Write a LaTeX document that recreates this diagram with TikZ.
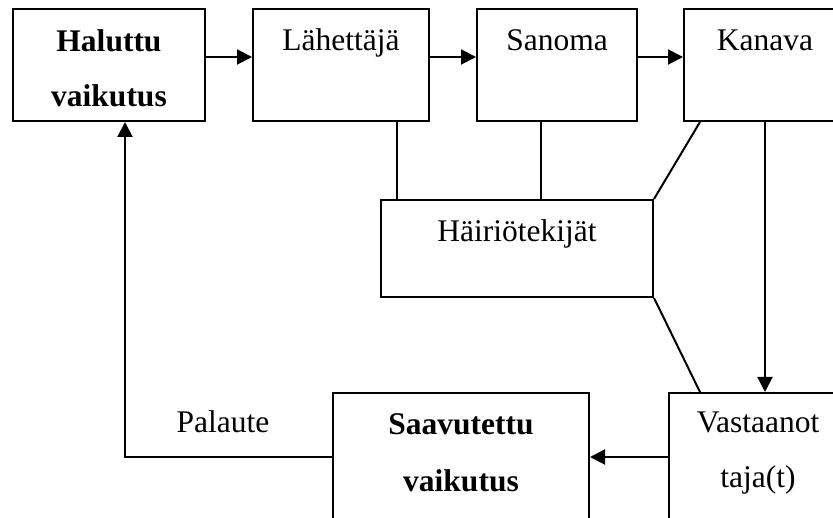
\documentclass[tikz,border=0pt]{standalone}
\usepackage{fontspec}
\setmainfont{Liberation Serif}
\usetikzlibrary{arrows.meta}
\begin{document}
\begin{tikzpicture}[x=1pt,y=-1pt,line width=2pt,
  box/.style={draw,line width=2pt,inner sep=0pt},
  lbl/.style={anchor=base,inner sep=0pt,font=\fontsize{31.5}{38}\selectfont},
  arr/.style={-{Triangle[length=15pt,width=15pt]}}]
\useasboundingbox (0,0) rectangle (833,518);
\clip (0,0) rectangle (833,518);
\fill[white] (0,0) rectangle (833,518);
% boxes
\node[box,minimum width=192pt,minimum height=112pt] (hal) at (109,65) {};
\node[box,minimum width=176pt,minimum height=112pt] (lah) at (341,65) {};
\node[box,minimum width=160pt,minimum height=112pt] (san) at (557,65) {};
\node[box,minimum width=162pt,minimum height=112pt] (kan) at (765,65) {};
\node[box,minimum width=272pt,minimum height=97pt] (hai) at (517,248.5) {};
\node[box,minimum width=180pt,minimum height=166pt] (vas) at (759,476) {};
\node[box,minimum width=256pt,minimum height=166pt] (saa) at (461,476) {};
% texts
\node[lbl] (t1) at (109,52) {\bfseries Haluttu};
\node[lbl] (t2) at (109,107) {\bfseries vaikutus};
\node[lbl] (t3) at (341,51) {Lähettäjä};
\node[lbl] (t4) at (557,51) {Sanoma};
\node[lbl] (t5) at (765,51) {Kanava};
\node[lbl] (t6) at (517,242) {Häiriötekijät};
\node[lbl] (t7) at (758,433) {Vastaanot};
\node[lbl] (t8) at (758,488) {taja(t)};
\node[lbl] (t9) at (461,435) {\bfseries Saavutettu};
\node[lbl] (t10) at (461,491) {\bfseries vaikutus};
\node[lbl] (t11) at (223,433) {Palaute};
% helper coordinates
\coordinate (c1) at (397,0);
\coordinate (c2) at (541,0);
% connectors
\draw[arr] ([yshift=8pt]hal.east) -- ([yshift=8pt]lah.west);
\draw[arr] ([yshift=8pt]lah.east) -- ([yshift=8pt]san.west);
\draw[arr] ([yshift=8pt]san.east) -- ([yshift=8pt]kan.west);
\draw (lah.south -| c1) -- (hai.north -| c1);
\draw (san.south -| c2) -- (hai.north -| c2);
\draw ([xshift=17pt]kan.south west) -- (hai.north east);
\draw (hai.south east) -- ([xshift=32pt]vas.north west);
\draw[arr] (kan.south) -- (vas.north -| kan.south);
\draw[arr] ([yshift=19pt]vas.west) -- ([yshift=19pt]saa.east);
\draw[arr] ([yshift=19pt]saa.west) -| ([xshift=16pt]hal.south);
\end{tikzpicture}
\end{document}
